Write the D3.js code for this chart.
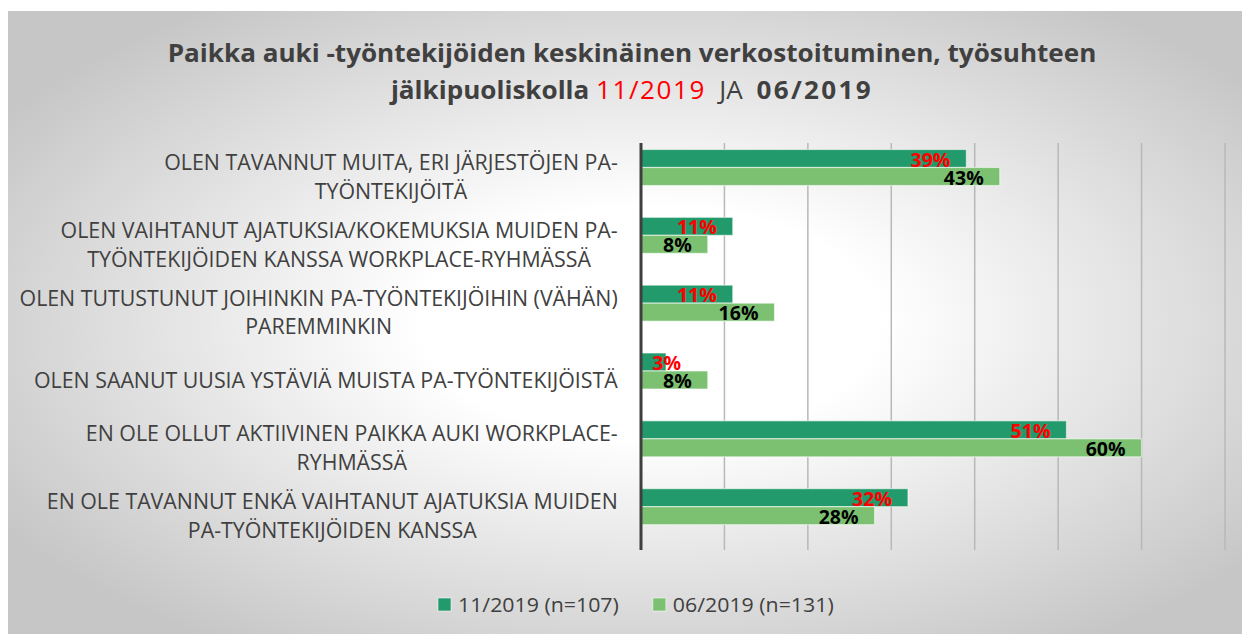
<!DOCTYPE html>
<html><head><meta charset="utf-8">
<script src="https://cdn.jsdelivr.net/npm/d3@7"></script>
<style>
html,body{margin:0;padding:0;background:#fff;}
svg{display:block;}
text{font-family:"Open Sans",sans-serif;white-space:pre;}
</style>
</head><body>
<svg id="c" width="1242" height="634"></svg>
<script>
// ---- data ----
const categories = [
  ["OLEN TAVANNUT MUITA, ERI JÄRJESTÖJEN PA-", "TYÖNTEKIJÖITÄ"],
  ["OLEN VAIHTANUT AJATUKSIA/KOKEMUKSIA MUIDEN PA-", "TYÖNTEKIJÖIDEN KANSSA WORKPLACE-RYHMÄSSÄ"],
  ["OLEN TUTUSTUNUT JOIHINKIN PA-TYÖNTEKIJÖIHIN (VÄHÄN)", "PAREMMINKIN"],
  ["OLEN SAANUT UUSIA YSTÄVIÄ MUISTA PA-TYÖNTEKIJÖISTÄ"],
  ["EN OLE OLLUT AKTIIVINEN PAIKKA AUKI WORKPLACE-", "RYHMÄSSÄ"],
  ["EN OLE TAVANNUT ENKÄ VAIHTANUT AJATUKSIA MUIDEN", "PA-TYÖNTEKIJÖIDEN KANSSA"]
];
const values_11_2019 = [39, 11, 11, 3, 51, 32];
const values_06_2019 = [43, 8, 16, 8, 60, 28];
const seriesNames = ["11/2019 (n=107)", "06/2019 (n=131)"];
const xTicks = [0, 10, 20, 30, 40, 50, 60, 70];
const titleLine1 = "Paikka auki -työntekijöiden keskinäinen verkostoituminen, työsuhteen";
const titleLine2 = [
  {t: "jälkipuoliskolla ", c: "#404040", w: 700, ls: 0},
  {t: "11/2019", c: "#ff0000", w: 400, ls: 1.5},
  {t: "  JA  ", c: "#404040", w: 400, ls: 0},
  {t: "06/2019", c: "#404040", w: 700, ls: 2.3}
];

// ---- setup ----
const W = 1242, H = 634;
const svg = d3.select("#c");
const defs = svg.append("defs");
const grad = defs.append("radialGradient").attr("id", "bg")
  .attr("cx", 0.52).attr("cy", 0.5).attr("r", 0.62);
grad.append("stop").attr("offset", 0).attr("stop-color", "#ffffff");
grad.append("stop").attr("offset", 0.3).attr("stop-color", "#ffffff");
grad.append("stop").attr("offset", 1).attr("stop-color", "#c6c6c6");
svg.append("rect").attr("x", 8).attr("y", 11).attr("width", W - 8).attr("height", H - 11)
  .attr("fill", "url(#bg)");

const series = [values_11_2019, values_06_2019];
const colors = ["#239a6b", "#7cc072"];
const labelColors = ["#ff0000", "#000000"];

const x = d3.scaleLinear().domain([0, 70]).range([641, 1225]);
const y = d3.scaleBand().domain(d3.range(categories.length)).range([143, 550]);
const ys = d3.scaleBand().domain([0, 1]).range([6.5, 42.5]);

// gridlines
svg.append("g").selectAll("line").data(xTicks.filter(t => t > 0)).join("line")
  .attr("x1", d => x(d)).attr("x2", d => x(d))
  .attr("y1", y.range()[0]).attr("y2", y.range()[1])
  .attr("stroke", "#b8b8b8").attr("stroke-width", 1.5);

// bars
const bars = [];
series.forEach((vals, s) => vals.forEach((v, i) => bars.push({s, i, v})));
svg.append("g").selectAll("rect").data(bars).join("rect")
  .attr("x", x(0))
  .attr("y", d => y(d.i) + ys(d.s))
  .attr("width", d => x(d.v) - x(0))
  .attr("height", ys.bandwidth())
  .attr("fill", d => colors[d.s])
  .attr("stroke", "rgba(255,255,255,0.55)").attr("stroke-width", 1.2);

// axis line
svg.append("line").attr("x1", x(0)).attr("x2", x(0))
  .attr("y1", y.range()[0]).attr("y2", y.range()[1])
  .attr("stroke", "#3f3f3f").attr("stroke-width", 3);

// value labels
svg.append("g").selectAll("text").data(bars).join("text")
  .attr("x", d => Math.max(x(d.v) - 16, x(0) + 40))
  .attr("y", d => y(d.i) + ys(d.s) + ys.bandwidth() - 1)
  .attr("text-anchor", "end")
  .attr("font-size", 19.5).attr("font-weight", 700)
  .attr("fill", d => labelColors[d.s])
  .text(d => d.v + "%");

// category labels
const catFont = 21;
const probe = svg.append("text").attr("font-size", catFont).text(categories[0][0]);
const catSx = 454 / probe.node().getComputedTextLength();
probe.remove();
categories.forEach((lines, i) => {
  const c = y(i) + y.bandwidth() / 2;
  const g = svg.append("g");
  const b1 = lines.length === 1 ? c + 7.5 : c - 6.85;
  const texts = lines.map((ln, k) => g.append("text")
    .attr("x", 0).attr("y", b1 + k * 28.7)
    .attr("text-anchor", "middle")
    .attr("font-size", catFont).attr("fill", "#404040")
    .text(ln));
  const maxW = d3.max(texts, t => t.node().getComputedTextLength()) * catSx;
  g.attr("transform", `translate(${618 - maxW / 2},0) scale(${catSx},1)`);
});

// title
const tFont = 25.5;
const t1 = svg.append("text").attr("text-anchor", "middle")
  .attr("font-size", tFont).attr("font-weight", 700).attr("fill", "#404040")
  .text(titleLine1);
const tSx = 929 / t1.node().getComputedTextLength();
t1.attr("transform", `translate(632,62) scale(${tSx},1)`);
const t2 = svg.append("text").attr("text-anchor", "middle")
  .attr("font-size", tFont).attr("fill", "#404040")
  .attr("transform", `translate(632,99) scale(${tSx},1)`);
titleLine2.forEach(p => t2.append("tspan").attr("fill", p.c).attr("font-weight", p.w)
  .attr("letter-spacing", p.ls).text(p.t));

// legend
const lgFont = 20;
const lg = svg.append("g");
const probe2 = lg.append("text").attr("font-size", lgFont).text(seriesNames[0]);
const lgSx = 161 / probe2.node().getComputedTextLength();
probe2.remove();
let lx = 438;
seriesNames.forEach((name, s) => {
  lg.append("rect").attr("x", lx).attr("y", 598).attr("width", 13).attr("height", 13)
    .attr("fill", colors[s]).attr("stroke", "rgba(255,255,255,0.55)");
  const t = lg.append("text").attr("font-size", lgFont).attr("fill", "#404040").text(name)
    .attr("transform", `translate(${lx + 20},612) scale(${lgSx},1)`);
  lx += 20 + t.node().getComputedTextLength() * lgSx + 34;
});
</script>
</body></html>
